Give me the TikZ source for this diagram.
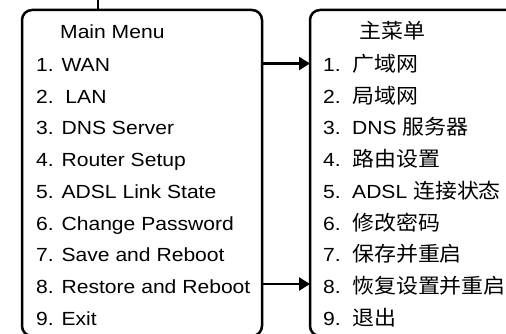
\documentclass[tikz,border=0pt]{standalone}
\usepackage{fontspec}
\setmainfont{Liberation Sans}[FakeStretch=1.11]
\newfontfamily\cjk{Noto Sans CJK SC}[FakeStretch=1.07]
\usetikzlibrary{arrows.meta}
\begin{document}
\begin{tikzpicture}[x=1pt,y=-1pt,
  menubox/.style={draw, line width=2.5pt, rounded corners=10pt, inner sep=0pt, outer sep=0pt},
  item/.style={anchor=base west, inner sep=0pt, font=\fontsize{19}{22}\selectfont},
  link/.style={line width=2.5pt, -{Triangle[length=11pt,width=13pt]}},
  wire/.style={line width=2.5pt}]
\useasboundingbox (0,0) rectangle (506,334);
\node[menubox, minimum width=240pt, minimum height=326pt] (L) at (142,173) {};
\node[menubox, minimum width=210pt, minimum height=326pt] (R) at (415,173) {};
% left menu
\node[item] (l0) at (60,38.5) {Main Menu};
\node[item] (l1) at (36,71.5) {1. WAN};
\node[item] (l2) at (36,103.3) {2.\ \ LAN};
\node[item] (l3) at (36,135) {3. DNS Server};
\node[item] (l4) at (36,166.7) {4. Router Setup};
\node[item] (l5) at (36,198.3) {5. ADSL Link State};
\node[item] (l6) at (36,230) {6. Change Password};
\node[item] (l7) at (36,261.7) {7. Save and Reboot};
\node[item] (l8) at (36,293.3) {8. Restore and Reboot};
\node[item] (l9) at (36,325.9) {9. Exit};
% right menu
\newcommand\num[1]{\makebox[29pt][l]{#1}}
\newcommand\zh[1]{{\cjk\fontsize{20.5}{22}\selectfont #1}}
\node[item] (r0) at (359,38.5) {\zh{主菜单}};
\node[item] (r1) at (323,71.5) {\num{1.}\zh{广域网}};
\node[item] (r2) at (323,103.3) {\num{2.}\zh{局域网}};
\node[item] (r3) at (323,135) {\num{3.}DNS \zh{服务器}};
\node[item] (r4) at (323,166.7) {\num{4.}\zh{路由设置}};
\node[item] (r5) at (323,198.3) {\num{5.}ADSL \zh{连接状态}};
\node[item] (r6) at (323,230) {\num{6.}\zh{修改密码}};
\node[item] (r7) at (323,261.7) {\num{7.}\zh{保存并重启}};
\node[item] (r8) at (323,293.3) {\num{8.}\zh{恢复设置并重启}};
\node[item] (r9) at (323,325.9) {\num{9.}\zh{退出}};
% connectors
\coordinate (top) at (98,0);
\coordinate (y1) at (0,63.5);
\coordinate (y8) at (0,284);
\draw[wire] (top) -- (top |- L.north);
\draw[link] (L.east |- y1) -- (R.west |- y1);
\draw[link] (L.east |- y8) -- (R.west |- y8);
\end{tikzpicture}
\end{document}
